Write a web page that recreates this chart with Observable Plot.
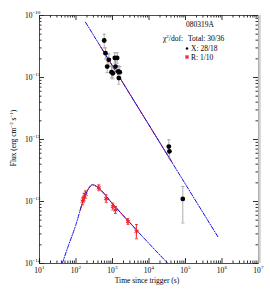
<!DOCTYPE html>
<html><head><meta charset="utf-8">
<script src="https://cdn.jsdelivr.net/npm/d3@7"></script>
<script src="https://cdn.jsdelivr.net/npm/@observablehq/plot@0.6"></script>
<style>
body{margin:0;background:#fff}
svg{display:block;font-family:"Liberation Serif","Times New Roman",serif}
</style>
</head><body><div id="chart"></div>
<script>
// ---- Data ----
// X-ray (black) points
const xT  = [592, 643, 716, 792, 940, 1020, 1157, 1343, 1208, 1432, 1585, 1490, 34900, 36300, 84400];
const xF  = [3.95e-11, 2.47e-11, 1.5e-11, 1.93e-11, 1.22e-11, 1.17e-11, 2.07e-11, 2.07e-11, 1.5e-11, 1.26e-11, 1.22e-11, 9.8e-12, 7.7e-13, 6.45e-13, 1.1e-13];
const xHi = [5.0e-11, 3.0e-11, 1.9e-11, 2.4e-11, 1.5e-11, 1.45e-11, 2.5e-11, 2.5e-11, 1.85e-11, 1.55e-11, 1.5e-11, 1.25e-11, 9.9e-13, 8.0e-13, 1.75e-13];
const xLo = [3.0e-11, 2.0e-11, 1.2e-11, 1.55e-11, 9.8e-12, 9.5e-12, 1.7e-11, 1.7e-11, 1.2e-11, 1.0e-11, 9.8e-12, 7.8e-12, 6.0e-13, 5.0e-13, 4.5e-14];
// Optical R (red) points
const rT  = [153, 168, 182, 422, 672, 1018, 1208, 2660, 4550];
const rT0 = [143, 157, 170, 400, 640, 975, 1160, 2540, 4350];
const rT1 = [163, 179, 194, 445, 705, 1060, 1255, 2780, 4750];
const rF  = [1.01e-13, 1.17e-13, 1.30e-13, 1.66e-13, 1.11e-13, 8.3e-14, 7.3e-14, 4.75e-14, 3.3e-14];
const rHi = [1.15e-13, 1.35e-13, 1.48e-13, 1.85e-13, 1.28e-13, 9.4e-14, 8.3e-14, 5.3e-14, 4.25e-14];
const rLo = [8.8e-14, 1.02e-13, 1.14e-13, 1.49e-13, 9.6e-14, 7.3e-14, 6.4e-14, 4.25e-14, 2.5e-14];
// Model curves
const xModelT = [182, 787000];
const xModelF = [7.8e-11, 2.65e-14];
const xFitT = [470, 43000];
const xFitF = [3.16e-11, 4.25e-13];
const rModelT = [42, 60, 100, 150, 200, 250, 280, 320, 400, 1000, 10000, 32000];
const rModelF = [1.0e-14, 1.84e-14, 4.27e-14, 9.5e-14, 1.45e-13, 1.78e-13, 1.86e-13, 1.83e-13, 1.68e-13, 9.2e-14, 2.1e-14, 1.02e-14];
const rFitT = [130, 150, 200, 250, 280, 320, 400, 1000, 5000];
const rFitF = [7.2e-14, 9.5e-14, 1.45e-13, 1.78e-13, 1.86e-13, 1.83e-13, 1.68e-13, 9.2e-14, 3.3e-14];
// Ticks
const xMajor = [1e1, 1e2, 1e3, 1e4, 1e5, 1e6, 1e7];
const xExp = ["1", "2", "3", "4", "5", "6", "7"];
const yMajor = [1e-14, 1e-13, 1e-12, 1e-11, 1e-10];
const yExp = ["\u221214", "\u221213", "\u221212", "\u221211", "\u221210"];
const mult = [2, 3, 4, 5, 6, 7, 8, 9];
const xMinor = xMajor.slice(0, -1).flatMap(d => mult.map(m => d * m));
const yMinor = yMajor.slice(0, -1).flatMap(d => mult.map(m => d * m));

const xPts = xT.map((t, i) => ({t, f: xF[i], hi: xHi[i], lo: xLo[i]}));
const rPts = rT.map((t, i) => ({t, t0: rT0[i], t1: rT1[i], f: rF[i], hi: rHi[i], lo: rLo[i]}));
const xModel = xModelT.map((t, i) => ({t, f: xModelF[i]}));
const xFit = xFitT.map((t, i) => ({t, f: xFitF[i]}));
const rModel = rModelT.map((t, i) => ({t, f: rModelF[i]}));
const rFit = rFitT.map((t, i) => ({t, f: rFitF[i]}));

const capSym = {draw(ctx, size) { const r = Math.sqrt(size / Math.PI); ctx.moveTo(-r, 0); ctx.lineTo(r, 0); }};

const W = 270, H = 291, mL = 39, mR = 12, mT = 15, mB = 28;
const pw = W - mL - mR, ph = H - mT - mB;
const dash = "4,1.5,1,1.5";

const chart = Plot.plot({
  width: W, height: H,
  marginLeft: mL, marginRight: mR, marginTop: mT, marginBottom: mB,
  x: {type: "log", domain: [10, 1e7], axis: null},
  y: {type: "log", domain: [1e-14, 1e-10], axis: null},
  style: {fontFamily: "'Liberation Serif','Times New Roman',serif", background: "white", color: "black"},
  marks: [
    // ticks (inward)
    Plot.tickX(xMajor, {x: d => d, insetTop: ph - 5, stroke: "#333"}),
    Plot.tickX(xMinor, {x: d => d, insetTop: ph - 2.5, stroke: "#333"}),
    Plot.tickX(xMajor, {x: d => d, insetBottom: ph - 5, stroke: "#333"}),
    Plot.tickX(xMinor, {x: d => d, insetBottom: ph - 2.5, stroke: "#333"}),
    Plot.tickY(yMajor, {y: d => d, insetRight: pw - 5, stroke: "#333"}),
    Plot.tickY(yMinor, {y: d => d, insetRight: pw - 2.5, stroke: "#333"}),
    Plot.tickY(yMajor, {y: d => d, insetLeft: pw - 5, stroke: "#333"}),
    Plot.tickY(yMinor, {y: d => d, insetLeft: pw - 2.5, stroke: "#333"}),
    // frame
    Plot.frame({stroke: "#222", strokeWidth: 0.8}),
    Plot.ruleX([1e7], {stroke: "#cfcfcf", strokeWidth: 2.5, dx: 1}),
    // tick labels
    Plot.text(xMajor, {x: d => d, frameAnchor: "bottom", text: () => "10", dy: 7.5, dx: -1.5, fontSize: 7.5, fill: "black", lineAnchor: "middle"}),
    Plot.text(xMajor.map((d, i) => i), {x: i => xMajor[i], frameAnchor: "bottom", text: i => xExp[i], dy: 4, dx: 2.5, fontSize: 5, fill: "black", textAnchor: "start", lineAnchor: "middle"}),
    Plot.text(yMajor, {y: d => d, frameAnchor: "left", text: () => "10", dx: -7, dy: 0.5, fontSize: 7.5, fill: "black", textAnchor: "end", lineAnchor: "middle"}),
    Plot.text(yMajor.map((d, i) => i), {y: i => yMajor[i], frameAnchor: "left", text: i => yExp[i], dx: -7, dy: -3, fontSize: 5, fill: "black", textAnchor: "start", lineAnchor: "middle"}),
    // model fits (red solid under blue dash-dot)
    Plot.line(xFit, {x: "t", y: "f", stroke: "#e8202a", strokeWidth: 1, clip: true}),
    Plot.line(rFit, {x: "t", y: "f", stroke: "#e8202a", strokeWidth: 1, curve: "monotone-x", clip: true}),
    Plot.line(xModel, {x: "t", y: "f", stroke: "#1010ee", strokeWidth: 1, strokeDasharray: dash, clip: true}),
    Plot.line(rModel, {x: "t", y: "f", stroke: "#1010ee", strokeWidth: 1, strokeDasharray: dash, curve: "monotone-x", clip: true}),
    // R points: pink error boxes, red bars, markers
    Plot.rect(rPts, {x1: "t0", x2: "t1", y1: "lo", y2: "hi", fill: "#ff7070", fillOpacity: 0.45}),
    Plot.ruleX(rPts, {x: "t", y1: "lo", y2: "hi", stroke: "#e8202a", strokeWidth: 0.8}),
    Plot.dot(rPts, {x: "t", y: "hi", symbol: capSym, r: 1.5, stroke: "#e8202a", strokeWidth: 0.8, fill: "none"}),
    Plot.dot(rPts, {x: "t", y: "lo", symbol: capSym, r: 1.5, stroke: "#e8202a", strokeWidth: 0.8, fill: "none"}),
    Plot.dot(rPts, {x: "t", y: "f", symbol: "asterisk", r: 2.3, stroke: "#e8202a", strokeWidth: 1}),
    // X points: gray bars, black dots
    Plot.ruleX(xPts, {x: "t", y1: "lo", y2: "hi", stroke: "#999", strokeWidth: 0.8}),
    Plot.dot(xPts, {x: "t", y: "hi", symbol: capSym, r: 1.6, stroke: "#999", strokeWidth: 0.8, fill: "none"}),
    Plot.dot(xPts, {x: "t", y: "lo", symbol: capSym, r: 1.6, stroke: "#999", strokeWidth: 0.8, fill: "none"}),
    Plot.dot(xPts, {x: "t", y: "f", r: 2.4, fill: "black"})
  ]
});
document.getElementById("chart").appendChild(chart);

// Axis titles and legend text
const svg = d3.select(chart);
const ff = "'Liberation Serif','Times New Roman',serif";
svg.append("text").attr("x", 147).attr("y", 283).attr("text-anchor", "middle").attr("fill", "black")
  .attr("font-size", 7.5).attr("font-family", ff).text("Time since trigger (s)");
const yl = svg.append("text").attr("transform", "translate(16,138) rotate(-90)").attr("text-anchor", "middle")
  .attr("font-size", 7.5).attr("font-family", ff).attr("fill", "black");
yl.append("tspan").text("Flux (erg cm");
yl.append("tspan").attr("dy", -3).attr("font-size", 5).text("\u22122");
yl.append("tspan").attr("dy", 3).text(" s");
yl.append("tspan").attr("dy", -3).attr("font-size", 5).text("\u22121");
yl.append("tspan").attr("dy", 3).text(")");

const lg = svg.append("g").attr("font-family", ff).attr("font-size", 7.5).attr("fill", "black").attr("text-anchor", "start");
lg.append("text").attr("x", 200).attr("y", 27).attr("text-anchor", "middle").text("080319A");
const chi = lg.append("text").attr("x", 163).attr("y", 41);
chi.append("tspan").text("\u03c7");
chi.append("tspan").attr("dy", -3).attr("font-size", 5).text("2");
chi.append("tspan").attr("dy", 3).text("/dof:");
lg.append("text").attr("x", 188).attr("y", 41).text("Total: 30/36");
lg.append("circle").attr("cx", 187).attr("cy", 48.5).attr("r", 1.2).attr("fill", "black");
lg.append("text").attr("x", 191).attr("y", 51).text("X: 28/18");
lg.append("rect").attr("x", 185).attr("y", 55).attr("width", 4).attr("height", 4).attr("fill", "#ff7070").attr("fill-opacity", 0.45);
lg.append("path").attr("d", d3.symbol(d3.symbolAsterisk, 12)()).attr("transform", "translate(187,57)")
  .attr("stroke", "#e8202a").attr("stroke-width", 0.9).attr("fill", "none");
lg.append("text").attr("x", 191).attr("y", 59.5).text("R: 1/10");
</script></body></html>
